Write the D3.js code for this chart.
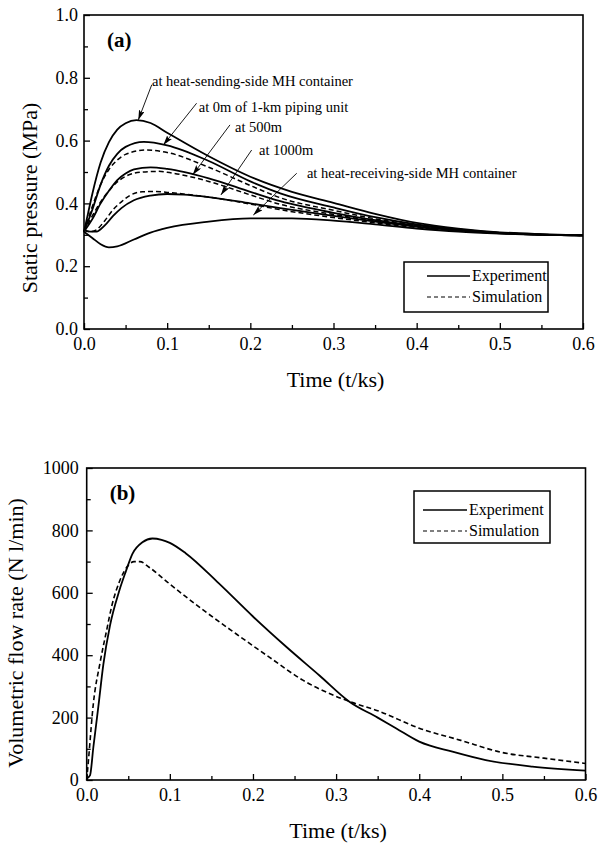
<!DOCTYPE html>
<html><head><meta charset="utf-8">
<script src="https://cdn.jsdelivr.net/npm/d3@7"></script>
<style>
html,body{margin:0;padding:0;background:#fff;}
svg{display:block;}
text{font-family:"Liberation Serif","Times New Roman",serif;fill:#000;}
</style></head>
<body>
<svg id="chart" width="600" height="846"></svg>
<script>
// ---------- Panel (a): static pressure (MPa) vs time (ks) ----------
const xTicksA = [0, 0.1, 0.2, 0.3, 0.4, 0.5, 0.6];
const yTicksA = [0, 0.2, 0.4, 0.6, 0.8, 1.0];
const sendExp = [[0,0.31],[0.005,0.37],[0.01,0.43],[0.02,0.53],[0.03,0.595],[0.04,0.635],[0.05,0.655],[0.063,0.665],[0.08,0.656],[0.1,0.625],[0.15,0.55],[0.2,0.485],[0.25,0.437],[0.3,0.402],[0.35,0.367],[0.4,0.338],[0.45,0.32],[0.5,0.308],[0.55,0.302],[0.6,0.298]];
const pipe0Exp = [[0,0.31],[0.01,0.38],[0.02,0.46],[0.03,0.52],[0.04,0.558],[0.05,0.58],[0.072,0.596],[0.1,0.585],[0.15,0.535],[0.2,0.47],[0.236,0.432],[0.3,0.387],[0.35,0.356],[0.4,0.333],[0.45,0.317],[0.5,0.306],[0.6,0.298]];
const pipe0Sim = [[0,0.31],[0.01,0.39],[0.02,0.46],[0.03,0.508],[0.04,0.538],[0.05,0.556],[0.075,0.57],[0.1,0.562],[0.15,0.515],[0.2,0.457],[0.236,0.418],[0.3,0.378],[0.35,0.351],[0.4,0.331],[0.45,0.316],[0.5,0.306],[0.6,0.298]];
const pipe500Exp = [[0,0.31],[0.01,0.35],[0.02,0.40],[0.03,0.44],[0.04,0.474],[0.05,0.495],[0.06,0.508],[0.08,0.515],[0.1,0.51],[0.15,0.48],[0.2,0.437],[0.236,0.407],[0.3,0.37],[0.35,0.347],[0.4,0.33],[0.45,0.316],[0.5,0.306],[0.6,0.298]];
const pipe500Sim = [[0,0.31],[0.01,0.36],[0.02,0.405],[0.03,0.44],[0.04,0.468],[0.05,0.486],[0.07,0.5],[0.09,0.502],[0.1,0.499],[0.15,0.47],[0.2,0.427],[0.236,0.397],[0.3,0.365],[0.35,0.344],[0.4,0.328],[0.45,0.315],[0.5,0.306],[0.6,0.298]];
const pipe1000Exp = [[0,0.315],[0.008,0.31],[0.015,0.31],[0.025,0.33],[0.035,0.36],[0.045,0.385],[0.06,0.41],[0.08,0.425],[0.1,0.43],[0.12,0.428],[0.15,0.42],[0.2,0.4],[0.236,0.385],[0.3,0.36],[0.35,0.342],[0.4,0.326],[0.45,0.314],[0.5,0.305],[0.6,0.298]];
const pipe1000Sim = [[0,0.315],[0.008,0.31],[0.015,0.316],[0.025,0.345],[0.035,0.38],[0.045,0.405],[0.055,0.425],[0.07,0.437],[0.085,0.438],[0.1,0.435],[0.15,0.42],[0.2,0.398],[0.236,0.38],[0.3,0.355],[0.35,0.338],[0.4,0.323],[0.45,0.313],[0.5,0.305],[0.6,0.298]];
const recvExp = [[0,0.31],[0.01,0.29],[0.02,0.27],[0.03,0.26],[0.04,0.263],[0.06,0.285],[0.08,0.307],[0.1,0.322],[0.15,0.342],[0.2,0.352],[0.25,0.352],[0.3,0.345],[0.35,0.333],[0.4,0.32],[0.45,0.31],[0.5,0.304],[0.6,0.298]];
const seriesA = [
  {data: sendExp, dash: false}, {data: pipe0Exp, dash: false}, {data: pipe0Sim, dash: true},
  {data: pipe500Exp, dash: false}, {data: pipe500Sim, dash: true},
  {data: pipe1000Exp, dash: false}, {data: pipe1000Sim, dash: true}, {data: recvExp, dash: false}
];
// annotation labels: [text, label t, label P, arrow start t, start P, arrow tip t, tip P]
const annLabels = ["at heat-sending-side MH container","at 0m of 1-km piping unit","at 500m","at 1000m","at heat-receiving-side MH container"];
const annText = [[0.0818,0.774],[0.138,0.691],[0.1816,0.627],[0.2104,0.554],[0.268,0.481]];
const annFrom = [[0.0815,0.778],[0.1354,0.719],[0.1755,0.650],[0.2016,0.570],[0.2558,0.496]];
const annTo = [[0.0653,0.666],[0.0954,0.586],[0.1307,0.491],[0.1646,0.427],[0.2036,0.363]];

// ---------- Panel (b): volumetric flow rate vs time ----------
const xTicksB = [0, 0.1, 0.2, 0.3, 0.4, 0.5, 0.6];
const yTicksB = [0, 200, 400, 600, 800, 1000];
const flowExp = [[0,5],[0.004,15],[0.008,105],[0.014,235],[0.02,370],[0.028,495],[0.039,605],[0.047,668],[0.055,725],[0.067,762],[0.079,774],[0.09,770],[0.1,760],[0.119,727],[0.159,630],[0.2,524],[0.24,427],[0.28,335],[0.316,251],[0.35,200],[0.372,166],[0.4,123],[0.44,91],[0.48,64],[0.536,43],[0.6,30]];
const flowSim = [[0,0],[0.002,60],[0.008,245],[0.016,375],[0.024,480],[0.03,556],[0.04,640],[0.05,688],[0.057,700],[0.064,700],[0.075,682],[0.1,628],[0.14,545],[0.18,468],[0.22,393],[0.26,320],[0.3,268],[0.32,248],[0.35,222],[0.4,166],[0.45,127],[0.5,88],[0.55,70],[0.6,53]];

const legendLabels = ["Experiment", "Simulation"];

const svg = d3.select("#chart");
svg.append("rect").attr("width",600).attr("height",846).attr("fill","#fff");

function panel(opts){
  const g = svg.append("g");
  const x = d3.scaleLinear().domain([0,0.6]).range([opts.x0, opts.x1]);
  const y = d3.scaleLinear().domain(opts.yDomain).range([opts.y1, opts.y0]);
  // minor ticks
  const xMinor = d3.range(0.05, 0.6, 0.1);
  const yStep = (opts.yDomain[1]-opts.yDomain[0])/10;
  const yMinor = d3.range(1,10,2).map(i => opts.yDomain[0] + i*yStep);
  g.append("g").attr("transform",`translate(0,${opts.y1})`)
    .call(d3.axisBottom(x).tickValues(xMinor).tickSize(-4).tickFormat(""))
    .call(a => a.select(".domain").remove())
    .call(a => a.selectAll("line").attr("stroke","#000").attr("stroke-width",1.3));
  g.append("g").attr("transform",`translate(${opts.x0},0)`)
    .call(d3.axisLeft(y).tickValues(yMinor).tickSize(-4).tickFormat(""))
    .call(a => a.select(".domain").remove())
    .call(a => a.selectAll("line").attr("stroke","#000").attr("stroke-width",1.3));
  // major
  const xa = g.append("g").attr("transform",`translate(0,${opts.y1})`)
    .call(d3.axisBottom(x).tickValues(opts.xTicks).tickSize(-6).tickPadding(8).tickFormat(d3.format(".1f")));
  const ya = g.append("g").attr("transform",`translate(${opts.x0},0)`)
    .call(d3.axisLeft(y).tickValues(opts.yTicks).tickSize(-6).tickPadding(opts.yPad).tickFormat(opts.yFmt));
  [xa, ya].forEach(a => {
    a.select(".domain").remove();
    a.selectAll("line").attr("stroke","#000").attr("stroke-width",1.3);
    a.selectAll("text").attr("font-family","Liberation Serif").attr("font-size",18).attr("fill","#000");
  });
  // frame
  g.append("rect").attr("x",opts.x0).attr("y",opts.y0).attr("width",opts.x1-opts.x0).attr("height",opts.y1-opts.y0)
    .attr("fill","none").attr("stroke","#000").attr("stroke-width",1.6);
  // titles
  g.append("text").attr("x",(opts.x0+opts.x1)/2+2).attr("y",opts.y1+58).attr("text-anchor","middle")
    .attr("font-size",22).text("Time (t/ks)");
  g.append("text").attr("transform",`translate(${opts.yTitleX},${opts.yTitleY}) rotate(-90)`).attr("text-anchor","middle")
    .attr("font-size",22).text(opts.yTitle);
  g.append("text").attr("x",opts.x0+23).attr("y",opts.y0+32).attr("font-size",21).attr("font-weight","bold").text(opts.tag);
  return {g,x,y};
}

// Panel (a)
const A = panel({x0:84, x1:583, y0:15, y1:329, yDomain:[0,1], xTicks:xTicksA, yTicks:yTicksA, yPad:6,
  yFmt:d3.format(".1f"), yTitle:"Static pressure (MPa)", yTitleX:37, yTitleY:198, tag:"(a)"});
const lineA = d3.line().x(d=>A.x(d[0])).y(d=>A.y(d[1])).curve(d3.curveMonotoneX);
A.g.selectAll("path.ser").data(seriesA).join("path").attr("class","ser")
  .attr("d", s => lineA(s.data)).attr("fill","none").attr("stroke","#000")
  .attr("stroke-width", s => s.dash ? 1.5 : 1.8)
  .attr("stroke-dasharray", s => s.dash ? "5,3" : null);

// arrowhead marker
const defs = svg.append("defs");
defs.append("marker").attr("id","arr").attr("viewBox","0 0 10 6").attr("refX",10).attr("refY",3)
  .attr("markerWidth",10).attr("markerHeight",6).attr("markerUnits","userSpaceOnUse").attr("orient","auto")
  .append("path").attr("d","M0,0 L10,3 L0,6 L2,3 Z").attr("fill","#000");

annLabels.forEach((t,i) => {
  A.g.append("line").attr("x1",A.x(annFrom[i][0])).attr("y1",A.y(annFrom[i][1]))
    .attr("x2",A.x(annTo[i][0])).attr("y2",A.y(annTo[i][1]))
    .attr("stroke","#000").attr("stroke-width",0.9).attr("marker-end","url(#arr)");
  A.g.append("text").attr("x",A.x(annText[i][0])).attr("y",A.y(annText[i][1])).attr("font-size",14.5).text(t);
});

function legend(g, bx, by, bw, bh, lx0, lx1, ty1, ty2){
  g.append("rect").attr("x",bx).attr("y",by).attr("width",bw).attr("height",bh)
    .attr("fill","#fff").attr("stroke","#000").attr("stroke-width",1.5);
  g.append("line").attr("x1",lx0).attr("x2",lx1).attr("y1",ty1-5).attr("y2",ty1-5).attr("stroke","#000").attr("stroke-width",1.6);
  g.append("line").attr("x1",lx0).attr("x2",lx1).attr("y1",ty2-5).attr("y2",ty2-5).attr("stroke","#000").attr("stroke-width",1.2).attr("stroke-dasharray","4,3");
  g.append("text").attr("x",lx1+2).attr("y",ty1).attr("font-size",16).text(legendLabels[0]);
  g.append("text").attr("x",lx1+2).attr("y",ty2).attr("font-size",16).text(legendLabels[1]);
}
legend(A.g, 404, 262, 144, 50, 427, 470, 281, 302);

// Panel (b)
const B = panel({x0:86.7, x1:585.5, y0:468, y1:780, yDomain:[0,1000], xTicks:xTicksB, yTicks:yTicksB, yPad:8,
  yFmt:d3.format("d"), yTitle:"Volumetric flow rate (N l/min)", yTitleX:23, yTitleY:633, tag:"(b)"});
const lineB = d3.line().x(d=>B.x(d[0])).y(d=>B.y(d[1])).curve(d3.curveMonotoneX);
B.g.append("path").attr("d", lineB(flowExp)).attr("fill","none").attr("stroke","#000").attr("stroke-width",1.8);
B.g.append("path").attr("d", lineB(flowSim)).attr("fill","none").attr("stroke","#000").attr("stroke-width",1.6).attr("stroke-dasharray","5,3");
legend(B.g, 414, 491, 136, 52, 423, 467, 515, 536);
</script>
</body></html>
